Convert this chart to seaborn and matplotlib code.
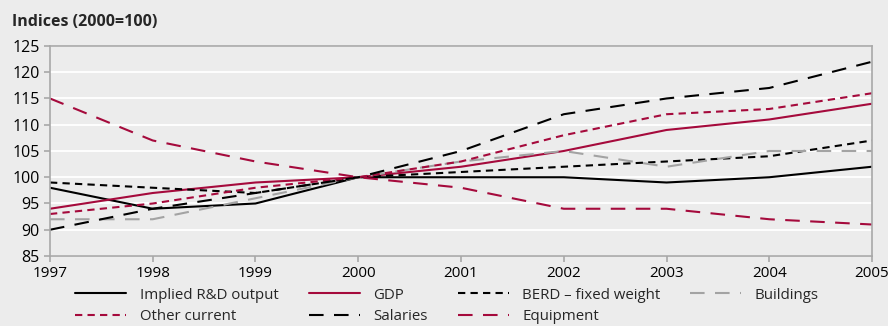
import pandas as pd
import seaborn as sb
import matplotlib.pyplot as plt

#%% data
years = [1997, 1998, 1999, 2000, 2001, 2002, 2003, 2004, 2005]
implied = [98, 94, 95, 100, 100, 100, 99, 100, 102]
gdp = [94, 97, 99, 100, 102, 105, 109, 111, 114]
berd = [99, 98, 97, 100, 101, 102, 103, 104, 107]
buildings = [92, 92, 96, 100, 103, 105, 102, 105, 105]
other_current = [93, 95, 98, 100, 103, 108, 112, 113, 116]
salaries = [90, 94, 97, 100, 105, 112, 115, 117, 122]
equipment = [115, 107, 103, 100, 98, 94, 94, 92, 91]

names = ['Implied R&D output', 'GDP', 'BERD – fixed weight', 'Buildings',
         'Other current', 'Salaries', 'Equipment']
values = [implied, gdp, berd, buildings, other_current, salaries, equipment]

red = '#a50a3c'
grey = '#a3a3a3'
palette = {'Implied R&D output': 'black', 'GDP': red, 'BERD – fixed weight': 'black',
           'Buildings': grey, 'Other current': red, 'Salaries': 'black',
           'Equipment': red}
dashes = {'Implied R&D output': '', 'GDP': '', 'BERD – fixed weight': (3.5, 2.5),
          'Buildings': (7, 5), 'Other current': (3.5, 2.5), 'Salaries': (7, 5),
          'Equipment': (7, 5)}

df = pd.DataFrame({'Year': years * len(names),
                   'Index': [v for vals in values for v in vals],
                   'Series': [n for n in names for _ in years]})

#%% plot
bg = '#ececec'
sb.set_style('white')
plt.rcParams['font.family'] = ['Open Sans', 'DejaVu Sans']

fig = plt.figure(figsize=(8.88, 3.26), dpi=100, facecolor=bg)
ax = fig.add_axes([0.0563, 0.2147, 0.9257, 0.6443])
ax.set_facecolor(bg)

sb.lineplot(data=df, x='Year', y='Index', hue='Series', style='Series',
            palette=palette, dashes=dashes, hue_order=names, style_order=names,
            linewidth=1.5, ax=ax)

ax.set_xlim(1997, 2005)
ax.set_ylim(85, 125)
ax.set_xticks(years)
ax.set_yticks(range(85, 126, 5))
ax.grid(axis='y', color='white', linewidth=1.3)
ax.set_axisbelow(True)
for s in ax.spines.values():
    s.set_color('#a8a8a8')
    s.set_linewidth(1.2)
ax.tick_params(axis='y', colors='#a8a8a8', labelcolor='black', labelsize=11.5,
               length=4, width=1.2, direction='out', left=True)
ax.tick_params(axis='x', colors='#a8a8a8', labelcolor='black', labelsize=11,
               length=4, width=1.2, direction='out', bottom=True)
ax.set_xlabel('')
ax.set_ylabel('')

fig.text(0.014, 0.933, 'Indices (2000=100)', fontsize=11.5, fontweight='bold',
         va='center')

h, l = ax.get_legend_handles_labels()
order = [0, 4, 1, 5, 2, 6, 3]
ax.legend([h[i] for i in order], [l[i] for i in order], ncol=4, frameon=False,
          loc='upper left', bbox_to_anchor=(0.02, -0.108), fontsize=10.8,
          handlelength=3.4, columnspacing=2.0, labelspacing=0.42, handletextpad=0.9,
          borderaxespad=0.2)

fig.savefig('out.png', dpi=100, facecolor=bg)
